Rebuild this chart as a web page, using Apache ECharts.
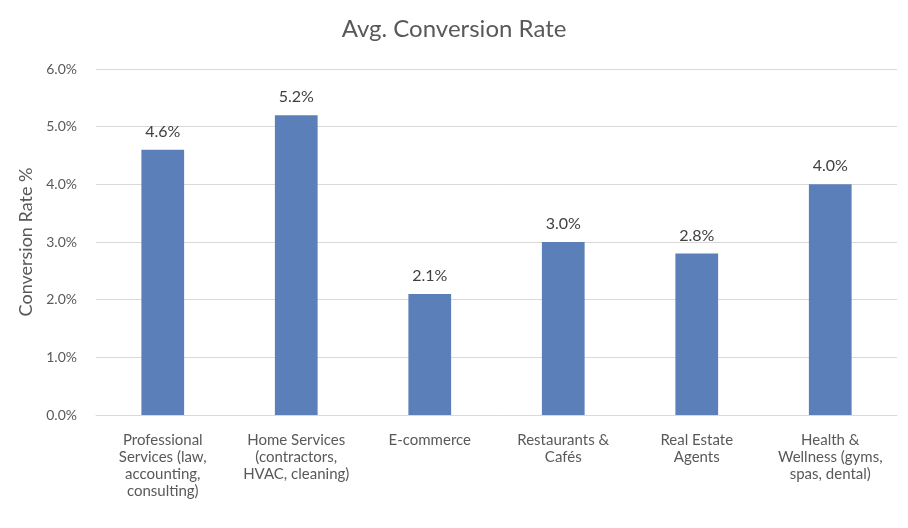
<!DOCTYPE html>
<html>
<head>
<meta charset="utf-8">
<script src="https://cdn.jsdelivr.net/npm/echarts@6/dist/echarts.min.js"></script>
<style>html,body{margin:0;padding:0;background:#fff}#c{width:908px;height:528px}</style>
</head>
<body>
<div id="c"></div>
<script>
var categories = [
  "Professional\nServices (law,\naccounting,\nconsulting)",
  "Home Services\n(contractors,\nHVAC, cleaning)",
  "E-commerce",
  "Restaurants &\nCafés",
  "Real Estate\nAgents",
  "Health &\nWellness (gyms,\nspas, dental)"
];
var values = [4.6, 5.2, 2.1, 3.0, 2.8, 4.0];
var yTicks = { min: 0, max: 6, interval: 1 };

var font = "Lato, 'Open Sans', sans-serif";
var chart = echarts.init(document.getElementById('c'));
chart.setOption({
  animation: false,
  title: {
    text: 'Avg. Conversion Rate',
    left: 'center',
    top: 12,
    textStyle: { fontFamily: font, fontSize: 24, fontWeight: 'normal', color: '#595959' }
  },
  grid: { left: 96, right: 11, top: 69, bottom: 113, containLabel: false },
  xAxis: {
    type: 'category',
    data: categories,
    axisLine: { show: true, lineStyle: { color: '#d9d9d9' } },
    axisTick: { show: false },
    axisLabel: { interval: 0, fontFamily: font, fontSize: 15, color: '#595959', lineHeight: 17, margin: 17 }
  },
  yAxis: {
    type: 'value',
    min: yTicks.min, max: yTicks.max, interval: yTicks.interval,
    name: 'Conversion Rate %',
    nameLocation: 'middle',
    nameGap: 60,
    nameTextStyle: { fontFamily: font, fontSize: 18, color: '#595959' },
    axisLine: { show: false },
    axisTick: { show: false },
    splitLine: { lineStyle: { color: '#d9d9d9', width: 1 } },
    axisLabel: { fontFamily: font, fontSize: 14, color: '#595959', margin: 19,
      formatter: function (v) { return v.toFixed(1) + '%'; } }
  },
  series: [{
    type: 'bar',
    data: values,
    barWidth: '32%',
    itemStyle: { color: '#5a7fb9' },
    label: {
      show: true, position: 'top', distance: 10,
      fontFamily: font, fontSize: 16, color: '#404040',
      formatter: function (p) { return p.value.toFixed(1) + '%'; }
    }
  }]
});
</script>
</body>
</html>
